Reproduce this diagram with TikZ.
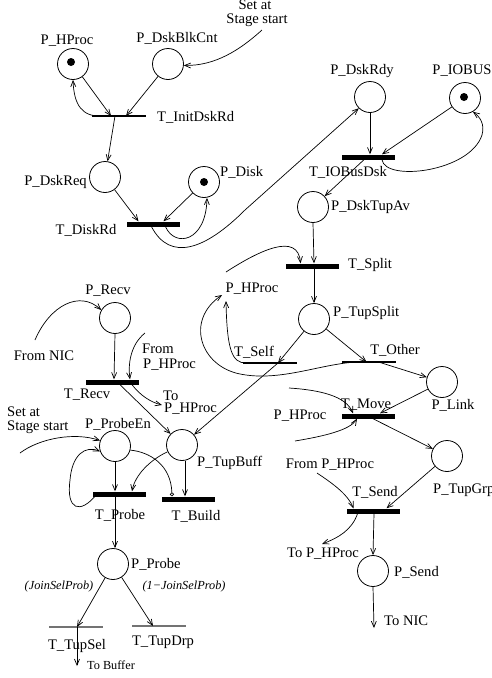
\documentclass[tikz,border=0pt]{standalone}
\usepackage{fontspec}
\setmainfont{Liberation Serif}
\usetikzlibrary{arrows.meta}
\begin{document}
\begin{tikzpicture}[x=1pt,y=-1pt,
  place/.style={circle,draw,line width=0.8pt,minimum size=31pt,inner sep=0pt},
  tbar/.style={rectangle,fill=black,inner sep=0pt,minimum width=53pt,minimum height=5pt},
  tthin/.style={rectangle,fill=black,inner sep=0pt,minimum width=54pt,minimum height=1.4pt},
  tgray/.style={rectangle,fill=black!55,inner sep=0pt,minimum width=54pt,minimum height=2pt},
  lbl/.style={inner sep=0pt,font=\fontsize{14.6}{16}\selectfont,text height=10pt,text depth=3pt},
  slbl/.style={inner sep=0pt,font=\fontsize{12.3}{14}\selectfont,text height=8.5pt,text depth=2.5pt},
  islbl/.style={inner sep=0pt,font=\fontsize{12.3}{14}\selectfont\itshape,text height=8.5pt,text depth=2.5pt},
  parc/.style={line width=0.7pt,-{Straight Barb[length=6pt,width=5pt]}},
  inhib/.style={line width=0.7pt,-{Circle[open,length=4pt,width=4pt]}},
  cline/.style={line width=0.7pt},
  tok/.style={circle,fill=black,inner sep=0pt,minimum size=8pt}
]
\fill[white] (0,0) rectangle (491,678);
\useasboundingbox (0,0) rectangle (491,678);

% places
\node[place] (pHProc1) at (73,64) {};
\node[place] (pDskBlkCnt) at (168,64) {};
\node[place] (pDskReq) at (105,177) {};
\node[place] (pDisk) at (204,182) {};
\node[place] (pDskRdy) at (370,97) {};
\node[place] (pIOBUS) at (465,98) {};
\node[place] (pDskTupAv) at (313,207) {};
\node[place] (pTupSplit) at (314,319) {};
\node[place] (pLink) at (442,382) {};
\node[place] (pTupGrp) at (447,456) {};
\node[place] (pSend) at (373,571) {};
\node[place] (pRecv) at (115,318) {};
\node[place] (pProbeEn) at (115,446) {};
\node[place] (pTupBuff) at (182,445) {};
\node[place] (pProbe) at (113,564) {};

% tokens
\node[tok] (tk1) at ([xshift=-2pt,yshift=2pt]pHProc1.center) {};
\node[tok] (tk2) at (pDisk.center) {};
\node[tok] (tk3) at ([xshift=-1pt,yshift=1pt]pIOBUS.center) {};

% transitions
\node[tbar] (tDiskRd) at (153.5,224) {};
\node[tbar] (tIOBusDsk) at (368,157) {};
\node[tbar] (tSplit) at (312.5,266) {};
\node[tbar] (tMove) at (368,416) {};
\node[tbar] (tSend) at (373.5,511) {};
\node[tbar] (tRecv) at (112,382) {};
\node[tbar] (tProbe) at (119,494) {};
\node[tbar] (tBuild) at (188.5,499) {};
\node[tthin] (tInitDskRd) at (119,116) {};
\node[tthin] (tSelf) at (270,363) {};
\node[tthin] (tOther) at (368.5,362) {};
\node[tgray] (tTupSel) at (76,627) {};
\node[tgray] (tTupDrp) at (158.5,626) {};

% labels
\node[lbl] (lHProc1) at (67,41) {P\_HProc};
\node[lbl] (lDskBlkCnt) at (177,39) {P\_DskBlkCnt};
\node[lbl,anchor=west] (lInitDskRd) at (157,118) {T\_InitDskRd};
\node[lbl,anchor=east] (lDskReq) at (87,182) {P\_DskReq};
\node[lbl,anchor=west] (lDisk) at (220,173) {P\_Disk};
\node[lbl] (lDiskRd) at (86,231) {T\_DiskRd};
\node[lbl] (lSet1) at (255,5.5) {Set at};
\node[lbl] (lStage1) at (257,19.5) {Stage start};
\node[lbl] (lDskRdy) at (362,71) {P\_DskRdy};
\node[lbl] (lIOBUS) at (462,71) {P\_IOBUS};
\node[lbl] (lIOBusDsk) at (348,173) {T\_IOBusDsk};
\node[lbl,anchor=west] (lDskTupAv) at (331,207) {P\_DskTupAv};
\node[lbl,anchor=west] (lSplit) at (348,265) {T\_Split};
\node[lbl] (lHProc2) at (252,289) {P\_HProc};
\node[lbl,anchor=west] (lTupSplit) at (333,313) {P\_TupSplit};
\node[lbl] (lSelf) at (254,353) {T\_Self};
\node[lbl] (lOther) at (395,351) {T\_Other};
\node[lbl] (lLink) at (453,406) {P\_Link};
\node[lbl] (lMove) at (366,405) {T\_Move};
\node[lbl] (lHProc3) at (300,416) {P\_HProc};
\node[lbl,anchor=west] (lTupGrp) at (433,490) {P\_TupGrp};
\node[lbl] (lFromHP3) at (330,465) {From P\_HProc};
\node[lbl] (lSend) at (375,493) {T\_Send};
\node[lbl] (lToHP3) at (323,554) {To P\_HProc};
\node[lbl,anchor=west] (lPSend) at (394,573) {P\_Send};
\node[lbl,anchor=west] (lToNIC) at (384,622) {To NIC};
\node[lbl] (lRecv) at (108,291) {P\_Recv};
\node[lbl] (lFromNIC) at (44,357) {From NIC};
\node[lbl,anchor=west] (lFrom2) at (142,350) {From};
\node[lbl,anchor=west] (lFromHP2) at (143,365) {P\_HProc};
\node[lbl] (lTRecv) at (87,395) {T\_Recv};
\node[lbl,anchor=west] (lTo2) at (163,397) {To};
\node[lbl,anchor=west] (lToHP2) at (164,409) {P\_HProc};
\node[lbl,anchor=west] (lSet2) at (7,413) {Set at};
\node[lbl,anchor=west] (lStage2) at (7,427) {Stage start};
\node[lbl] (lProbeEn) at (118,425) {P\_ProbeEn};
\node[lbl,anchor=west] (lTupBuff) at (197,463) {P\_TupBuff};
\node[lbl] (lTProbe) at (120,516) {T\_Probe};
\node[lbl] (lBuild) at (196,517) {T\_Build};
\node[lbl,anchor=west] (lPProbe) at (131,565) {P\_Probe};
\node[islbl] (lJS) at (59,586) {(JoinSelProb)};
\node[islbl] (l1JS) at (184,586) {(1−JoinSelProb)};
\node[lbl] (lTupSel) at (77,646) {T\_TupSel};
\node[lbl] (lTupDrp) at (163,642) {T\_TupDrp};
\node[slbl] (lToBuf) at (111,666) {To Buffer};

% free ends
\coordinate (cSetTop) at (262,30);
\coordinate (cHP2start) at (226,272);
\coordinate (cSelfHP) at (226,301);
\coordinate (cOtherHP) at (222,295);
\coordinate (cMoveA) at (289,388);
\coordinate (cMoveB) at (295,441);
\coordinate (cSendIn) at (317,473);
\coordinate (cSendOut) at (322,544);
\coordinate (cNIC) at (374,628);
\coordinate (cNICin) at (35,340);
\coordinate (cRecvIn) at (145,333);
\coordinate (cRecvOut) at (162,405);
\coordinate (cSetProbe) at (20,453);
\coordinate (cBuf) at (77,666);

% top part
\draw[parc] (cSetTop) .. controls (240,50) and (215,66) .. (pDskBlkCnt.-5);
\draw[parc] (pHProc1) -- ([xshift=-8pt]tInitDskRd.center);
\draw[parc] (pDskBlkCnt) -- ([xshift=7pt]tInitDskRd.center);
\draw[parc] ([xshift=-17pt]tInitDskRd.center) .. controls (82,117) and (74,105) .. (pHProc1.south);
\draw[parc] ([xshift=-4pt]tInitDskRd.center) -- (pDskReq);
\draw[parc] (pDskReq) -- ([xshift=-15pt]tDiskRd.north);
\draw[parc] (pDisk) -- ([xshift=10pt]tDiskRd.north);
\draw[parc] ([xshift=12pt]tDiskRd.south) .. controls (175,248) and (206,242) .. ([xshift=3pt]pDisk.south);
\draw[parc] ([xshift=-2pt]tDiskRd.south) .. controls (170,262) and (205,250) .. (245,210) -- (pDskRdy.south west);
\draw[parc] (pDskRdy) -- ([xshift=2pt]tIOBusDsk.north);
\draw[parc] (pIOBUS) -- ([xshift=14pt]tIOBusDsk.north);
\draw[parc] ([xshift=14pt]tIOBusDsk.south) .. controls (385,182) and (470,172) .. (482,135) .. controls (485,124) and (480,117) .. (pIOBUS.-60);
\draw[parc] ([xshift=-4pt]tIOBusDsk.south) -- (pDskTupAv);
\draw[parc] (pDskTupAv.south) -- ([xshift=1.5pt]tSplit.north);
\draw[parc] ([xshift=1.5pt]tSplit.south) -- (pTupSplit.north);
\draw[parc] (cHP2start) .. controls (260,250) and (298,232) .. ([xshift=-12pt]tSplit.north);

% middle
\draw[parc] (pTupSplit) -- ([xshift=8pt]tSelf.center);
\draw[parc] (pTupSplit) -- ([xshift=-2pt]tOther.center);
\draw[parc] ([xshift=8pt]tSelf.center) -- (pTupBuff);
\draw[parc] ([xshift=-24pt]tSelf.center) .. controls (232,363) and (227,350) .. (cSelfHP);
\draw[parc] ([xshift=-12pt]tOther.center) .. controls (320,364) and (280,382) .. (240,374) .. controls (200,366) and (185,320) .. (cOtherHP);
\draw[parc] ([xshift=10pt]tOther.center) -- (pLink);
\draw[parc] (pLink) -- ([xshift=12pt]tMove.north);
\draw[parc] ([xshift=5pt]tMove.south) -- (pTupGrp);
\draw[parc] (cMoveA) .. controls (320,390) and (346,396) .. ([xshift=-15pt]tMove.north);
\draw[parc] (cMoveB) .. controls (325,436) and (350,430) .. ([xshift=-11pt]tMove.south);

% send
\draw[parc] (cSendIn) .. controls (335,485) and (348,495) .. ([xshift=-20pt]tSend.north);
\draw[parc] (pTupGrp) -- ([xshift=13pt]tSend.north);
\draw[parc] ([xshift=-16pt]tSend.south) .. controls (352,530) and (338,538) .. (cSendOut);
\draw[parc] ([xshift=0.5pt]tSend.south) -- (pSend.north);
\draw[parc] (pSend.south) -- (cNIC);

% recv
\draw[parc] (cNICin) .. controls (50,305) and (80,290) .. (pRecv.150);
\draw[parc] (pRecv.south) -- ([xshift=2pt]tRecv.north);
\draw[parc] (cRecvIn) .. controls (130,345) and (128,365) .. ([xshift=18pt]tRecv.north);
\draw[parc] ([xshift=20pt]tRecv.south) .. controls (140,395) and (150,402) .. (cRecvOut);
\draw[parc] ([xshift=8pt]tRecv.south) -- (pTupBuff);

% probe
\draw[parc] (cSetProbe) .. controls (40,438) and (75,432) .. (pProbeEn.160);
\draw[parc] ([xshift=-22pt]tProbe.center) .. controls (80,515) and (66,510) .. (70,480) .. controls (72,455) and (85,445) .. (pProbeEn.200);
\draw[parc] (pProbeEn.south) -- ([xshift=-4pt]tProbe.north);
\draw[parc] ([xshift=-4pt]tProbe.south) -- ([xshift=2pt]pProbe.north);
\draw[parc] (pTupBuff.205) .. controls (150,460) and (135,475) .. ([xshift=13pt]tProbe.north);
\draw[parc] ([xshift=3pt]pTupBuff.south) -- ([xshift=-3.5pt]tBuild.north);
\draw[inhib] (pProbeEn.-15) .. controls (150,452) and (171,465) .. ([xshift=-16.5pt]tBuild.north);
\draw[parc] (pProbe) -- ([xshift=1pt]tTupSel.center);
\draw[parc] (pProbe) -- ([xshift=-5.5pt]tTupDrp.center);
\draw[parc] ([xshift=1pt]tTupSel.center) -- (cBuf);
\end{tikzpicture}
\end{document}
